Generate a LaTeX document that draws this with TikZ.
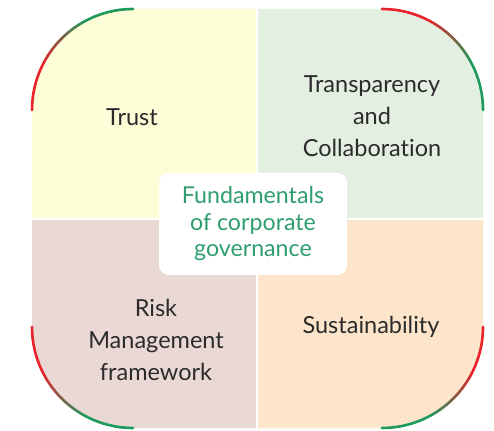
\documentclass[tikz,border=0pt]{standalone}
\usepackage{fontspec}
\setmainfont[Ligatures=NoCommon]{Lato}

\definecolor{arcred}{HTML}{E8232C}
\definecolor{arcgreen}{HTML}{1E9A5C}
\definecolor{trustfill}{HTML}{FDFDD8}
\definecolor{transfill}{HTML}{E3F0E1}
\definecolor{riskfill}{HTML}{EAD8D5}
\definecolor{sustfill}{HTML}{FCE5CA}
\definecolor{coretext}{HTML}{2F9E6E}
\definecolor{labeltext}{HTML}{2B2B2B}

\tikzset{
    arcline/.style = {line width=2.6pt, line cap=round},
    quadlabel/.style = {text=labeltext, align=center, font=\fontsize{23.5}{32}\selectfont},
    corebox/.style = {fill=white, rounded corners=10pt, minimum width=188pt, minimum height=102pt,
                      text=coretext, align=center, font=\fontsize{23.2}{26.5}\selectfont}
}

% arc with a red to green fade: centre x, centre y, start angle, end angle
\newcommand{\fadearc}[4]{
    \foreach \k in {0, ..., 35}{
        \pgfmathsetmacro{\aa}{#3 + (#4 - #3)*\k/36}
        \pgfmathsetmacro{\ab}{#3 + (#4 - #3)*(\k + 1)/36}
        \pgfmathsetmacro{\mix}{min(100, max(0, (\k/35 - 0.3)/0.4*100))}
        \draw [arcline, draw=arcgreen!\mix!arcred] (#1, #2) ++(\aa:\r) arc[start angle=\aa, end angle=\ab, radius=\r];
    }
}

\begin{document}
\begin{tikzpicture}[x=1pt, y=1pt]

    \def \r {101}
    \def \xl {32}
    \def \xm {257}
    \def \xr {483}
    \def \yb {2}
    \def \ym {211}
    \def \yt {421}

    \useasboundingbox (0,0) rectangle (494,430);

    % four quarters
    \fill [trustfill] (\xl, \ym) -- (\xl, \yt - \r) arc[start angle=180, end angle=90, radius=\r] -- (\xm, \yt) -- (\xm, \ym) -- cycle;
    \fill [transfill] (\xm, \ym) -- (\xm, \yt) -- (\xr - \r, \yt) arc[start angle=90, end angle=0, radius=\r] -- (\xr, \ym) -- cycle;
    \fill [sustfill] (\xm, \ym) -- (\xr, \ym) -- (\xr, \yb + \r) arc[start angle=0, end angle=-90, radius=\r] -- (\xm, \yb) -- cycle;
    \fill [riskfill] (\xm, \ym) -- (\xm, \yb) -- (\xl + \r, \yb) arc[start angle=270, end angle=180, radius=\r] -- (\xl, \ym) -- cycle;

    \draw [white, line width=2pt] (\xm, \yb) -- (\xm, \yt);
    \draw [white, line width=2pt] (\xl, \ym) -- (\xr, \ym);

    % corner arcs
    \fadearc{\xl + \r}{\yt - \r}{180}{90}
    \fadearc{\xr - \r}{\yt - \r}{90}{0}
    \fadearc{\xr - \r}{\yb + \r}{0}{-90}
    \fadearc{\xl + \r}{\yb + \r}{180}{270}

    \node [quadlabel] (trust) at (132, 313) {Trust};
    \node [quadlabel] (transparency) at (372, 314) {Transparency\\and\\Collaboration};
    \node [quadlabel] (risk) at (156, 90) {Risk\\Management\\framework};
    \node [quadlabel] (sustainability) at (371, 103) {Sustainability};

    \node [corebox] (core) at (253, 206) {Fundamentals\\of corporate\\governance};

\end{tikzpicture}
\end{document}
